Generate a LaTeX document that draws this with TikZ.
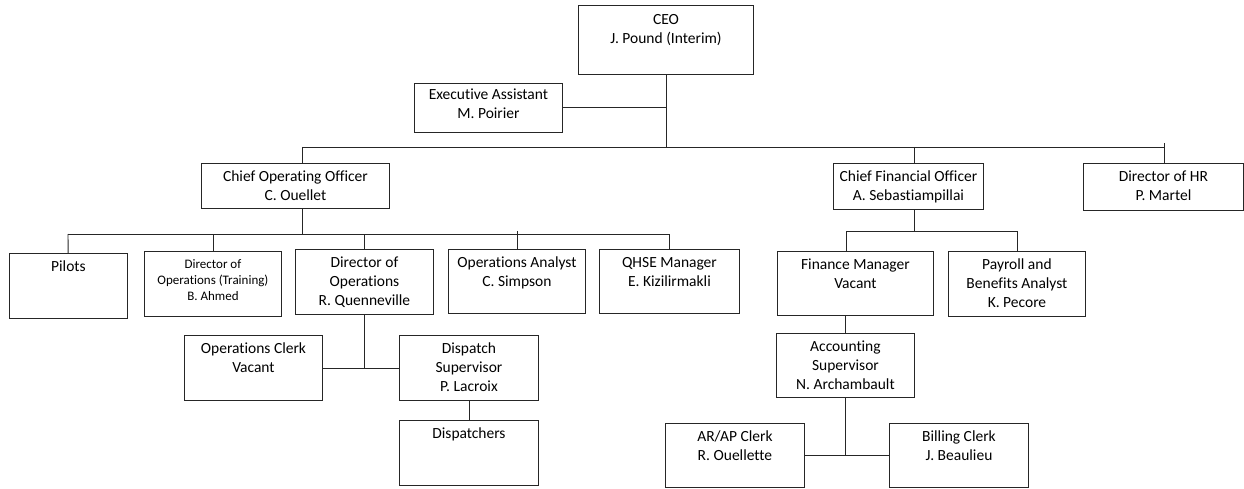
\documentclass[tikz,border=0pt]{standalone}
\usepackage{fontspec}
\setmainfont{Carlito}[Ligatures=NoCommon]
\usetikzlibrary{positioning}

\begin{document}
\begin{tikzpicture}[x=1pt, y=-1pt,
  box/.style={draw=black!85, line width=0.9pt, anchor=north west, inner sep=0pt},
  txt/.style={anchor=north, align=center, inner sep=0pt, yshift=-8pt, font=\fontsize{15.5}{19}\selectfont},
  small/.style={txt, font=\fontsize{13}{16}\selectfont},
  link/.style={draw=black!85, line width=0.9pt}]
  \useasboundingbox (0,0) rectangle (1244,489);
  % top level
  \node[box, minimum width=175pt, minimum height=69pt, label={[txt, yshift=-1pt]north:CEO\\J. Pound (Interim)}] (ceo) at (578,5) {};
  \node[box, minimum width=148pt, minimum height=49pt, label={[txt, yshift=2pt]north:Executive Assistant\\M. Poirier}] (ea) at (414,83) {};
  \node[box, minimum width=188pt, minimum height=45pt, label={[txt]north:Chief Operating Officer\\C. Ouellet}] (coo) at (201,163) {};
  \node[box, minimum width=150pt, minimum height=46pt, label={[txt]north:Chief Financial Officer\\A. Sebastiampillai}] (cfo) at (833,163) {};
  \node[box, minimum width=160pt, minimum height=47pt, label={[txt]north:Director of HR\\P. Martel}] (hr) at (1083,163) {};
  % operations
  \node[box, minimum width=118pt, minimum height=65pt, label={[txt]north:Pilots}] (pilots) at (9,253) {};
  \node[box, minimum width=137pt, minimum height=65pt, label={[small]north:Director of\\Operations (Training)\\B. Ahmed}] (dtr) at (144,251) {};
  \node[box, minimum width=138pt, minimum height=65pt, label={[txt]north:Director of\\Operations\\R. Quenneville}] (dops) at (295,249) {};
  \node[box, minimum width=137pt, minimum height=64pt, label={[txt]north:Operations Analyst\\C. Simpson}] (oa) at (448,249) {};
  \node[box, minimum width=140pt, minimum height=64pt, label={[txt]north:QHSE Manager\\E. Kizilirmakli}] (qhse) at (599,249) {};
  \node[box, minimum width=138pt, minimum height=65pt, label={[txt]north:Operations Clerk\\Vacant}] (clerk) at (184,335) {};
  \node[box, minimum width=139pt, minimum height=65pt, label={[txt]north:Dispatch\\Supervisor\\P. Lacroix}] (disp) at (399,335) {};
  \node[box, minimum width=139pt, minimum height=65pt, label={[txt]north:Dispatchers}] (dsp) at (399,420) {};
  % finance
  \node[box, minimum width=156pt, minimum height=64pt, label={[txt]north:Finance Manager\\Vacant}] (fm) at (777,251) {};
  \node[box, minimum width=137pt, minimum height=65pt, label={[txt]north:Payroll and\\Benefits Analyst\\K. Pecore}] (pay) at (948,251) {};
  \node[box, minimum width=138pt, minimum height=64pt, label={[txt]north:Accounting\\Supervisor\\N. Archambault}] (acc) at (776,333) {};
  \node[box, minimum width=139pt, minimum height=64pt, label={[txt]north:AR/AP Clerk\\R. Ouellette}] (arap) at (665,423) {};
  \node[box, minimum width=139pt, minimum height=64pt, label={[txt]north:Billing Clerk\\J. Beaulieu}] (bill) at (889,423) {};

  % junctions
  \coordinate (bl) at (302,147);
  \coordinate (br) at (1164,147);
  \coordinate (jcfo) at (914,147);
  \coordinate (sl) at (68,234);
  \coordinate (sr) at (669,234);
  \coordinate (fl) at (846,231);
  \coordinate (fr) at (1017,231);

  \draw[link] (ceo) -- (ceo |- bl);
  \draw[link] (ea.east) -- (ea.east -| ceo);
  \draw[link] (bl) -- (br);
  \draw[link] (bl) -- (bl |- coo.north);
  \draw[link] (jcfo) -- (jcfo |- cfo.north);
  \draw[link] ([yshift=4pt]br) -- (br |- hr.north);
  % under the COO
  \draw[link] (bl |- coo.south) -- (bl |- sl);
  \draw[link] (sl) -- (sr);
  \draw[link] (sl) -- (pilots);
  \draw[link] (sl -| dtr) -- (dtr);
  \draw[link] (sl -| dops) -- (dops);
  \draw[link] ([yshift=3pt]sl -| oa) -- (oa);
  \draw[link] (sr) -- (sr |- qhse.north);
  \draw[link] (dops) -- (dops |- clerk);
  \draw[link] (clerk) -- (disp);
  \draw[link] (disp) -- (dsp);
  % under the CFO
  \draw[link] (jcfo |- cfo.south) -- (jcfo |- fl);
  \draw[link] (fl) -- (fr);
  \draw[link] (fl) -- (fl |- fm.north);
  \draw[link] (fr) -- (fr |- pay.north);
  \draw[link] (fm.south -| acc) -- (acc);
  \draw[link] (acc) -- (acc |- arap);
  \draw[link] (arap) -- (bill);
\end{tikzpicture}
\end{document}
